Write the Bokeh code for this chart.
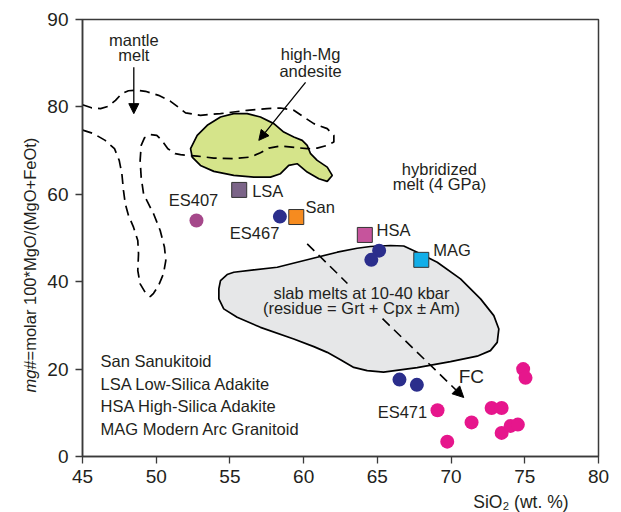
import math
from bokeh.plotting import figure
from bokeh.models import Range1d, FixedTicker, Label, Arrow, NormalHead
from bokeh.layouts import row, column
from bokeh.embed import file_html
from bokeh.resources import INLINE

# ---------------- data ----------------
x_ticks = [45, 50, 55, 60, 65, 70, 75, 80]
y_tick_values = [0, 20, 40, 60, 80, 100]
y_tick_labels = ["0", "20", "40", "60", "80", "90"]

# high-Mg andesite field (green)
hma_x = [52.33, 52.78, 53.46, 54.36, 55.26, 56.17, 57.07, 57.98, 58.65, 59.33, 59.90, 60.24,
         60.47, 60.92, 61.60, 61.94, 61.60, 61.03, 60.24, 59.56, 58.99, 58.43, 57.75, 56.62,
         55.26, 53.91, 53.00, 52.44]
hma_y = [70.44, 73.49, 75.78, 77.68, 78.46, 78.46, 77.68, 76.17, 74.24, 73.10, 72.34, 71.20,
         69.29, 67.76, 66.22, 64.32, 62.95, 63.57, 65.08, 67.00, 66.61, 64.71, 63.93, 63.93,
         64.32, 65.24, 66.61, 68.52]

# mantle melt field (dashed outline)
mm_x = [45.00, 45.61, 46.22, 46.76, 47.24, 47.65, 48.12, 48.66, 49.27, 50.16, 50.97, 51.51,
        51.99, 53.00, 54.36, 56.17, 57.53, 58.43, 59.33, 60.01, 60.69, 61.60, 62.05, 62.05,
        61.60, 60.92, 60.24, 59.56, 58.43, 57.64, 57.07, 56.40, 55.26, 53.91, 52.78, 51.65,
        51.29, 50.79, 50.38, 50.04, 49.59, 49.21, 48.98, 48.91, 48.98, 49.14, 49.36, 49.82,
        50.27, 50.56, 50.65, 50.49, 50.16, 49.82, 49.59, 49.25, 48.91, 48.75, 48.80, 48.75,
        48.46, 48.12, 47.90, 47.78, 47.67, 47.49, 47.17, 46.54, 45.75, 45.07, 45.00]
mm_y = [80.48, 79.79, 79.61, 80.13, 81.51, 83.00, 83.69, 83.85, 83.57, 82.65, 81.28, 79.90,
        78.64, 78.07, 78.46, 79.22, 79.61, 79.74, 79.22, 77.68, 76.17, 75.02, 73.49, 71.95,
        71.20, 70.58, 70.44, 70.67, 71.04, 70.58, 69.52, 68.52, 68.15, 68.29, 68.74, 69.06,
        69.29, 70.44, 72.34, 73.49, 73.65, 72.96, 71.20, 67.76, 63.93, 60.13, 58.59, 55.55,
        51.72, 47.89, 44.84, 41.80, 39.12, 37.35, 36.60, 37.58, 39.51, 42.55, 46.38, 49.43,
        52.47, 55.16, 57.84, 60.89, 64.71, 67.76, 70.44, 72.34, 73.88, 74.63, 74.75]

# slab melts field (grey)
slab_x = [54.25, 54.36, 54.81, 55.26, 56.62, 58.21, 59.56, 60.92, 62.28, 63.63, 64.53, 65.89,
          66.79, 67.70, 69.06, 70.64, 72.00, 72.90, 73.24, 73.13, 72.67, 71.77, 69.96, 67.70,
          65.42, 64.31, 63.40, 62.50, 61.60, 60.69, 59.33, 57.07, 55.49, 54.58, 54.25]
slab_y = [38.43, 40.26, 41.64, 42.16, 42.71, 43.31, 44.45, 45.60, 46.75, 47.66, 48.05, 48.28,
          48.17, 46.75, 44.45, 40.65, 36.07, 32.24, 29.19, 26.12, 24.22, 22.96, 21.70, 20.33,
          19.29, 19.64, 20.39, 22.16, 23.83, 25.14, 26.90, 29.56, 31.85, 33.78, 36.07]

# FC trend (dashed arrow), broken where the text sits
fc_x = [60.24, 62.97, 65.35, 70.86]
fc_y = [48.67, 39.60, 31.55, 13.50]
mantle_arrow_x = [48.48, 48.48]
mantle_arrow_y = [89.1, 78.46]
hma_arrow_x = [60.13, 56.96]
hma_arrow_y = [85.63, 72.34]

# samples
es407_x, es407_y = [52.73], [54.0]
blue_x = [58.39, 65.12, 64.59, 66.50, 67.68]
blue_y = [54.9, 47.1, 45.0, 17.6, 16.4]
pink_x = [69.08, 69.74, 71.39, 72.75, 73.43, 73.43, 74.04, 74.53, 74.89, 75.05]
pink_y = [10.6, 3.4, 7.8, 11.1, 11.1, 5.4, 7.0, 7.3, 20.0, 18.0]

# reference compositions
ref_names = ["LSA", "San", "HSA", "MAG"]
ref_x = [55.63, 59.50, 64.15, 67.98]
ref_y = [61.0, 54.8, 50.7, 45.0]
ref_colors = ["#7b6488", "#f68b1f", "#c6549c", "#12aee8"]

legend_lines = ["San Sanukitoid", "LSA Low-Silica Adakite",
                "HSA High-Silica Adakite", "MAG Modern Arc Granitoid"]

x_title = "SiO\u2082 (wt. %)"
y_title_italic = "mg#"
y_title_rest = "=molar 100*MgO/(MgO+FeOt)"

# ---------------- styling constants ----------------
FONT = "Liberation Sans"
TXT = "#231f20"
AX = "#3a3a3a"
DASH = "10 6"

W, H = 621, 512
YLAB_W = 40
XLAB_H = 21
MAIN_W = W - YLAB_W
MAIN_H = H - XLAB_H

# ---------------- main figure ----------------
p = figure(width=MAIN_W, height=MAIN_H, x_range=Range1d(45, 80), y_range=Range1d(0, 100),
           output_backend="svg", toolbar_location=None,
           min_border_left=82 - YLAB_W, min_border_right=23, min_border_top=19,
           min_border_bottom=MAIN_H - 456)
p.background_fill_color = "white"
p.border_fill_color = "white"
p.outline_line_color = AX
p.outline_line_width = 1.5
p.xgrid.visible = False
p.ygrid.visible = False

for ax in (p.xaxis[0], p.yaxis[0]):
    ax.axis_line_color = AX
    ax.axis_line_width = 1.5
    ax.major_tick_line_color = AX
    ax.major_tick_line_width = 1.3
    ax.major_tick_out = 7
    ax.major_tick_in = 0
    ax.minor_tick_line_color = None
    ax.major_label_text_font = FONT
    ax.major_label_text_font_size = "19px"
    ax.major_label_text_color = TXT
p.xaxis.major_label_standoff = 6
p.yaxis.major_label_standoff = 7

p.xaxis.ticker = FixedTicker(ticks=x_ticks)
p.yaxis.ticker = FixedTicker(ticks=y_tick_values)
p.yaxis.major_label_overrides = {v: s for v, s in zip(y_tick_values, y_tick_labels)}

# fields
p.patch(slab_x, slab_y, fill_color="#e6e7e8", line_color="black", line_width=1.7)
p.patch(hma_x, hma_y, fill_color="#d5e48a", line_color="black", line_width=1.7)
p.line(mm_x, mm_y, line_color="black", line_width=1.7, line_dash=DASH)

# FC trend
p.line(fc_x[:2], fc_y[:2], line_color="black", line_width=1.6, line_dash=DASH)
p.add_layout(Arrow(x_start=fc_x[2], y_start=fc_y[2], x_end=fc_x[3], y_end=fc_y[3],
                   line_color="black", line_width=1.6, line_dash=DASH,
                   end=NormalHead(size=11, fill_color="black", line_color="black", line_width=1)))
# pointer arrows
p.add_layout(Arrow(x_start=mantle_arrow_x[0], y_start=mantle_arrow_y[0],
                   x_end=mantle_arrow_x[1], y_end=mantle_arrow_y[1],
                   line_color="black", line_width=1.3,
                   end=NormalHead(size=10, fill_color="black", line_color="black", line_width=1)))
p.add_layout(Arrow(x_start=hma_arrow_x[0], y_start=hma_arrow_y[0],
                   x_end=hma_arrow_x[1], y_end=hma_arrow_y[1],
                   line_color="black", line_width=1.3,
                   end=NormalHead(size=10, fill_color="black", line_color="black", line_width=1)))

# samples
p.scatter(es407_x, es407_y, marker="circle", size=14, fill_color="#a5488a", line_color=None)
p.scatter(blue_x, blue_y, marker="circle", size=14, fill_color="#2b2e8c", line_color=None)
p.scatter(pink_x, pink_y, marker="circle", size=14, fill_color="#e6168c", line_color=None)
p.scatter(ref_x, ref_y, marker="square", size=15, fill_color=ref_colors,
          line_color="#333333", line_width=1)


def lab(fig, x, y, text, size="16.5px", align="center", style="normal", angle=0.0):
    fig.add_layout(Label(x=x, y=y, text=text, text_font=FONT, text_font_size=size,
                         text_color=TXT, text_align=align, text_baseline="middle",
                         text_font_style=style, angle=angle))


lab(p, 48.48, 95.26, "mantle")
lab(p, 48.48, 91.98, "melt")
lab(p, 60.47, 92.2, "high-Mg")
lab(p, 60.47, 88.15, "andesite")
lab(p, 69.21, 65.86, "hybridized")
lab(p, 69.21, 62.26, "melt (4 GPa)")
lab(p, 63.92, 37.44, "slab melts at 10-40 kbar")
lab(p, 63.95, 33.91, "(residue = Grt + Cpx \u00b1 Am)")
lab(p, 52.53, 58.6, "ES407")
lab(p, 56.67, 51.03, "ES467")
lab(p, 68.38, 10.24, "ES471", align="right")
lab(p, 70.52, 18.4, "FC", size="19px", align="left")
ref_label_pos = [(56.51, 60.66), (60.13, 57.06), (64.94, 51.72), (68.79, 47.3)]
for name, (lx, ly) in zip(ref_names, ref_label_pos):
    lab(p, lx, ly, name, align="left")

for i, line in enumerate(legend_lines):
    lab(p, 46.22, 21.93 - i * 5.23, line, align="left")

# ---------------- axis-title panels ----------------
def blank(width, height):
    f = figure(width=width, height=height, x_range=Range1d(0, width), y_range=Range1d(0, height),
               output_backend="svg", toolbar_location=None, min_border=0,
               x_axis_location=None, y_axis_location=None)
    f.xgrid.visible = False
    f.ygrid.visible = False
    f.outline_line_color = None
    f.background_fill_color = "white"
    f.border_fill_color = "white"
    return f


ylab = blank(YLAB_W, H)
lab(ylab, 29, H - 360, y_title_italic, align="right", style="italic", angle=math.pi / 2)
lab(ylab, 29, H - 360, y_title_rest, align="left", angle=math.pi / 2)

xlab = blank(MAIN_W, XLAB_H)
lab(xlab, 480 - YLAB_W, XLAB_H / 2, x_title, size="17.5px", align="left")

layout = row(ylab, column(p, xlab, spacing=0), spacing=0)
open("out.html", "w").write(file_html(layout, INLINE))
